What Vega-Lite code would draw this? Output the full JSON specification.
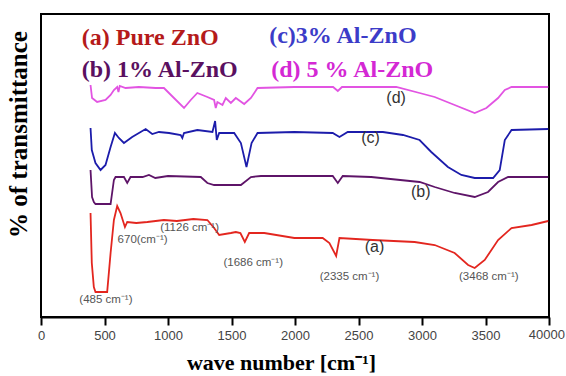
{
  "$schema": "https://vega.github.io/schema/vega-lite/v6.json",
  "width": 508,
  "height": 303,
  "autosize": "none",
  "padding": {"left": 41, "top": 14, "right": 17, "bottom": 59},
  "background": "white",
  "config": {"view": {"stroke": "black", "strokeWidth": 2}},
  "datasets": {
    "spectra": [
      {"s":"a","wn":390,"T":104},{"s":"a","wn":400,"T":54},{"s":"a","wn":416,"T":30},{"s":"a","wn":429,"T":25},{"s":"a","wn":480,"T":25},{"s":"a","wn":521,"T":25},{"s":"a","wn":548,"T":64},{"s":"a","wn":574,"T":97},{"s":"a","wn":600,"T":111},{"s":"a","wn":626,"T":104},{"s":"a","wn":661,"T":90},{"s":"a","wn":679,"T":95},{"s":"a","wn":750,"T":94},{"s":"a","wn":837,"T":95},{"s":"a","wn":968,"T":97},{"s":"a","wn":1070,"T":96},{"s":"a","wn":1200,"T":98},{"s":"a","wn":1310,"T":97},{"s":"a","wn":1363,"T":89},{"s":"a","wn":1403,"T":82},{"s":"a","wn":1495,"T":84},{"s":"a","wn":1534,"T":85},{"s":"a","wn":1570,"T":84},{"s":"a","wn":1605,"T":75},{"s":"a","wn":1639,"T":84},{"s":"a","wn":1758,"T":84},{"s":"a","wn":1995,"T":79},{"s":"a","wn":2218,"T":79},{"s":"a","wn":2271,"T":74},{"s":"a","wn":2324,"T":61},{"s":"a","wn":2350,"T":79},{"s":"a","wn":2611,"T":77},{"s":"a","wn":2942,"T":75},{"s":"a","wn":3100,"T":72},{"s":"a","wn":3257,"T":64},{"s":"a","wn":3363,"T":52},{"s":"a","wn":3415,"T":49},{"s":"a","wn":3494,"T":57},{"s":"a","wn":3599,"T":77},{"s":"a","wn":3705,"T":89},{"s":"a","wn":3863,"T":92},{"s":"a","wn":3994,"T":96},
      {"s":"b","wn":390,"T":147},{"s":"b","wn":402,"T":120},{"s":"b","wn":416,"T":115},{"s":"b","wn":429,"T":113},{"s":"b","wn":548,"T":113},{"s":"b","wn":574,"T":137},{"s":"b","wn":587,"T":140},{"s":"b","wn":653,"T":140},{"s":"b","wn":679,"T":134},{"s":"b","wn":705,"T":140},{"s":"b","wn":800,"T":140},{"s":"b","wn":850,"T":142},{"s":"b","wn":900,"T":139},{"s":"b","wn":1000,"T":141},{"s":"b","wn":1258,"T":140},{"s":"b","wn":1310,"T":134},{"s":"b","wn":1363,"T":132},{"s":"b","wn":1574,"T":132},{"s":"b","wn":1653,"T":140},{"s":"b","wn":1732,"T":141},{"s":"b","wn":2297,"T":141},{"s":"b","wn":2337,"T":134},{"s":"b","wn":2376,"T":141},{"s":"b","wn":2600,"T":140},{"s":"b","wn":2981,"T":135},{"s":"b","wn":3100,"T":130},{"s":"b","wn":3257,"T":124},{"s":"b","wn":3415,"T":120},{"s":"b","wn":3520,"T":125},{"s":"b","wn":3599,"T":135},{"s":"b","wn":3678,"T":140},{"s":"b","wn":3994,"T":140},
      {"s":"c","wn":390,"T":189},{"s":"c","wn":400,"T":167},{"s":"c","wn":429,"T":154},{"s":"c","wn":469,"T":147},{"s":"c","wn":508,"T":152},{"s":"c","wn":548,"T":170},{"s":"c","wn":582,"T":184},{"s":"c","wn":613,"T":179},{"s":"c","wn":653,"T":174},{"s":"c","wn":718,"T":180},{"s":"c","wn":824,"T":188},{"s":"c","wn":876,"T":183},{"s":"c","wn":929,"T":185},{"s":"c","wn":1008,"T":184},{"s":"c","wn":1100,"T":182},{"s":"c","wn":1113,"T":179},{"s":"c","wn":1126,"T":184},{"s":"c","wn":1231,"T":187},{"s":"c","wn":1350,"T":185},{"s":"c","wn":1371,"T":196},{"s":"c","wn":1384,"T":177},{"s":"c","wn":1403,"T":184},{"s":"c","wn":1521,"T":184},{"s":"c","wn":1574,"T":174},{"s":"c","wn":1618,"T":150},{"s":"c","wn":1658,"T":174},{"s":"c","wn":1705,"T":184},{"s":"c","wn":1995,"T":185},{"s":"c","wn":2297,"T":184},{"s":"c","wn":2350,"T":180},{"s":"c","wn":2415,"T":185},{"s":"c","wn":2692,"T":185},{"s":"c","wn":2850,"T":182},{"s":"c","wn":2981,"T":177},{"s":"c","wn":3073,"T":165},{"s":"c","wn":3204,"T":150},{"s":"c","wn":3310,"T":142},{"s":"c","wn":3415,"T":139},{"s":"c","wn":3560,"T":139},{"s":"c","wn":3612,"T":147},{"s":"c","wn":3652,"T":177},{"s":"c","wn":3705,"T":187},{"s":"c","wn":3994,"T":188},
      {"s":"d","wn":390,"T":232},{"s":"d","wn":402,"T":219},{"s":"d","wn":442,"T":215},{"s":"d","wn":508,"T":217},{"s":"d","wn":548,"T":222},{"s":"d","wn":574,"T":227},{"s":"d","wn":600,"T":230},{"s":"d","wn":610,"T":225},{"s":"d","wn":620,"T":231},{"s":"d","wn":666,"T":229},{"s":"d","wn":771,"T":230},{"s":"d","wn":903,"T":229},{"s":"d","wn":968,"T":229},{"s":"d","wn":1047,"T":219},{"s":"d","wn":1126,"T":209},{"s":"d","wn":1179,"T":217},{"s":"d","wn":1231,"T":224},{"s":"d","wn":1310,"T":220},{"s":"d","wn":1363,"T":217},{"s":"d","wn":1376,"T":209},{"s":"d","wn":1389,"T":215},{"s":"d","wn":1429,"T":212},{"s":"d","wn":1455,"T":219},{"s":"d","wn":1495,"T":214},{"s":"d","wn":1534,"T":219},{"s":"d","wn":1600,"T":213},{"s":"d","wn":1653,"T":219},{"s":"d","wn":1705,"T":229},{"s":"d","wn":1995,"T":230},{"s":"d","wn":2300,"T":230},{"s":"d","wn":2337,"T":226},{"s":"d","wn":2370,"T":230},{"s":"d","wn":2797,"T":230},{"s":"d","wn":2981,"T":224},{"s":"d","wn":3100,"T":220},{"s":"d","wn":3257,"T":212},{"s":"d","wn":3415,"T":204},{"s":"d","wn":3507,"T":209},{"s":"d","wn":3599,"T":219},{"s":"d","wn":3652,"T":227},{"s":"d","wn":3705,"T":230},{"s":"d","wn":3994,"T":230}
    ],
    "peaks": [
      {"wn":511,"T":17,"label":"(485 cm⁻¹)"},
      {"wn":800,"T":77,"label":"670(cm⁻¹)"},
      {"wn":1170,"T":89,"label":"(1126 cm⁻¹)"},
      {"wn":1671,"T":54,"label":"(1686 cm⁻¹)"},
      {"wn":2429,"T":40,"label":"(2335 cm⁻¹)"},
      {"wn":3526,"T":40,"label":"(3468 cm⁻¹)"}
    ],
    "tags": [
      {"wn":2626,"T":70,"label":"(a)"},
      {"wn":2990,"T":125,"label":"(b)"},
      {"wn":2595,"T":179,"label":"(c)"},
      {"wn":2796,"T":219,"label":"(d)"}
    ],
    "keys": [
      {"s":"a","wn":321,"T":279,"label":"(a) Pure ZnO"},
      {"s":"c","wn":1797,"T":281,"label":"(c)3% Al-ZnO"},
      {"s":"b","wn":321,"T":247,"label":"(b) 1% Al-ZnO"},
      {"s":"d","wn":1813,"T":247,"label":"(d) 5 % Al-ZnO"}
    ],
    "lastTick": [
      {"wn":4000,"T":0,"label":"40000"}
    ]
  },
  "encoding": {
    "x": {
      "field": "wn", "type": "quantitative",
      "scale": {"domain": [0, 4000], "nice": false, "zero": false},
      "axis": {
        "title": "wave number [cm⁻¹]",
        "values": [0, 500, 1000, 1500, 2000, 2500, 3000, 3500, 4000],
        "labelExpr": "datum.value == 4000 ? '' : format(datum.value, 'd')",
        "grid": false, "domainColor": "black", "domainWidth": 2,
        "tickColor": "black", "tickWidth": 2, "tickSize": 8,
        "labelFont": "Liberation Sans", "labelFontSize": 13, "labelColor": "#444444",
        "labelPadding": 4, "labelFlush": false, "labelOverlap": false,
        "titleFont": "Liberation Serif", "titleFontSize": 22, "titleFontWeight": "bold", "titleColor": "black",
        "titleX": 240, "titleY": 45, "titleBaseline": "middle", "titleAlign": "center"
      }
    },
    "y": {
      "field": "T", "type": "quantitative",
      "scale": {"domain": [0, 303], "nice": false, "zero": false},
      "axis": {
        "title": "% of transmittance",
        "ticks": false, "labels": false, "domain": false, "grid": false,
        "titleFont": "Liberation Serif", "titleFontSize": 25, "titleFontWeight": "bold", "titleColor": "black",
        "titleAngle": -90, "titleX": -23, "titleY": 120, "titleAlign": "center", "titleBaseline": "middle"
      }
    }
  },
  "layer": [
    {
      "data": {"name": "spectra"},
      "mark": {"type": "line", "strokeWidth": 1.8},
      "encoding": {
        "detail": {"field": "s"},
        "color": {"field": "s", "type": "nominal", "legend": null,
          "scale": {"domain": ["a", "b", "c", "d"], "range": ["#e3261f", "#5e1468", "#1c1cab", "#e254e2"]}}
      }
    },
    {
      "data": {"name": "peaks"},
      "mark": {"type": "text", "font": "Liberation Sans", "fontSize": 11.5, "color": "#555555", "baseline": "middle", "align": "center"},
      "encoding": {"text": {"field": "label"}}
    },
    {
      "data": {"name": "tags"},
      "mark": {"type": "text", "font": "Liberation Sans", "fontSize": 16, "color": "#333333", "baseline": "middle", "align": "center"},
      "encoding": {"text": {"field": "label"}}
    },
    {
      "data": {"name": "lastTick"},
      "mark": {"type": "text", "font": "Liberation Sans", "fontSize": 13, "color": "#444444", "baseline": "top", "align": "right", "dx": 16, "dy": 12},
      "encoding": {"text": {"field": "label"}}
    },
    {
      "data": {"name": "keys"},
      "mark": {"type": "text", "font": "Liberation Serif", "fontSize": 24, "fontWeight": "bold", "baseline": "middle", "align": "left"},
      "encoding": {
        "text": {"field": "label"},
        "color": {"field": "s", "type": "nominal", "legend": null,
          "scale": {"domain": ["a", "b", "c", "d"], "range": ["#b51a1a", "#5a1060", "#3c3cc8", "#d428d4"]}}
      }
    }
  ],
  "resolve": {"scale": {"color": "independent"}}
}
